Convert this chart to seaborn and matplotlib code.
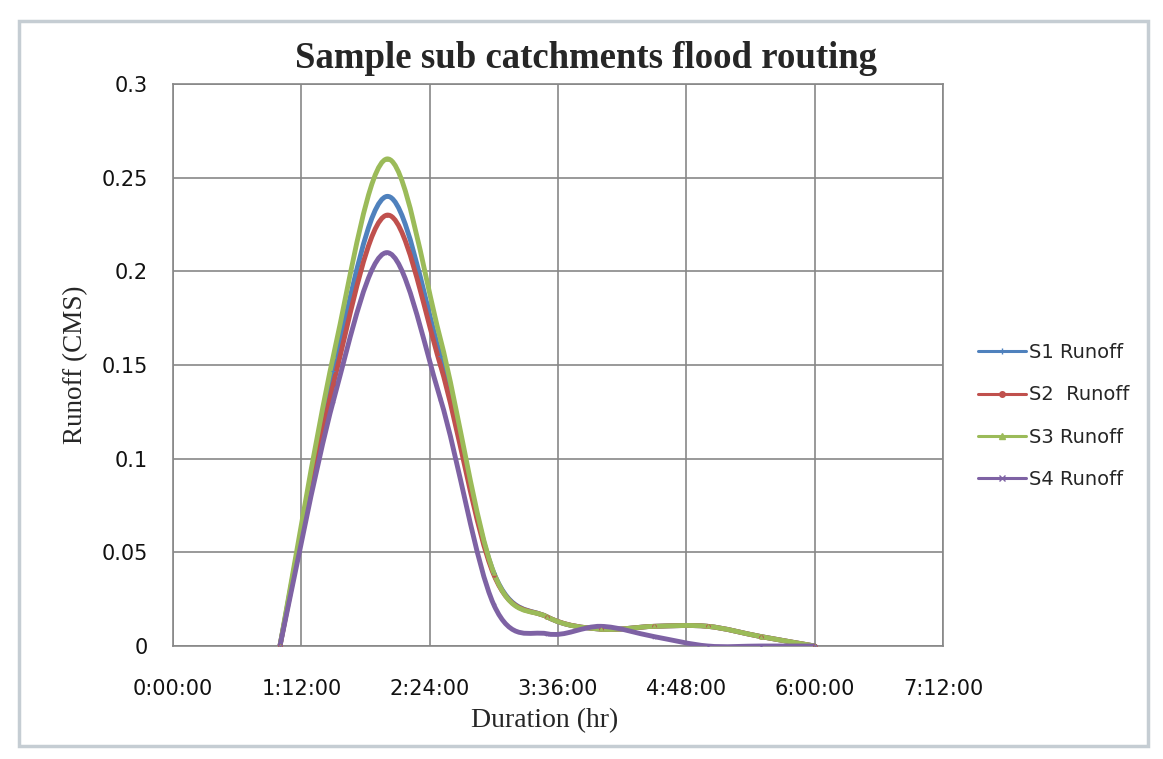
import numpy as np
import pandas as pd
import matplotlib
matplotlib.use("Agg")
import matplotlib.pyplot as plt
import seaborn as sns
from matplotlib.path import Path
from matplotlib.patches import PathPatch, Rectangle
from matplotlib.lines import Line2D
from matplotlib.ticker import FuncFormatter

# ---- data (time in minutes, runoff in CMS) ----
minutes = [60, 90, 120, 150, 180, 210, 240, 270, 300, 330, 360]
s1_runoff = [0, 0.147, 0.240, 0.155, 0.039, 0.0155, 0.009, 0.0105, 0.0105, 0.005, 0]
s2_runoff = [0, 0.140, 0.230, 0.150, 0.038, 0.0155, 0.009, 0.0105, 0.0105, 0.005, 0]
s3_runoff = [0, 0.155, 0.260, 0.164, 0.039, 0.0155, 0.009, 0.0105, 0.0105, 0.005, 0]
s4_runoff = [0, 0.131, 0.210, 0.132, 0.022, 0.0065, 0.0105, 0.005, 0, 0, 0]
series_names = ["S1 Runoff", "S2  Runoff", "S3 Runoff", "S4 Runoff"]
series_values = [s1_runoff, s2_runoff, s3_runoff, s4_runoff]
x_ticks_min = [0, 72, 144, 216, 288, 360, 432]
y_ticks = [0, 0.05, 0.1, 0.15, 0.2, 0.25, 0.3]

colors = ["#4F81BD", "#C0504D", "#9BBB59", "#7E62A4"]
markers = ["+", "o", "^", "x"]

sns.set_theme(style="white")
plt.rcParams["font.family"] = ["DejaVu Sans"]

fig = plt.figure(figsize=(11.63, 7.59), dpi=100)
fig.patch.set_facecolor("white")
ax = fig.add_axes([173 / 1163, 1 - 646 / 759, (943 - 173) / 1163, (646 - 84) / 759])

# outer chart frame
fig.patches.append(Rectangle((19 / 1163, 1 - 746 / 759), (1148 - 19) / 1163, (746 - 21) / 759,
                             transform=fig.transFigure, fill=False,
                             edgecolor="#C5CDD3", linewidth=2.5))


def smooth_path(xs, ys):
    # Excel-style smoothed line: cubic Bezier segments through data points
    pts = np.column_stack([xs, ys]).astype(float)
    n = len(pts)
    verts = [pts[0]]
    codes = [Path.MOVETO]
    for i in range(n - 1):
        p0 = pts[i - 1] if i > 0 else pts[i]
        p1 = pts[i]
        p2 = pts[i + 1]
        p3 = pts[i + 2] if i + 2 < n else pts[i + 1]
        c1 = p1 + (p2 - p0) / 6.0
        c2 = p2 - (p3 - p1) / 6.0
        verts += [c1, c2, p2]
        codes += [Path.CURVE4] * 3
    return Path(verts, codes)


for name, vals, col, mk in zip(series_names, series_values, colors, markers):
    patch = PathPatch(smooth_path(minutes, vals), facecolor="none", edgecolor=col,
                      linewidth=3.5, capstyle="round", joinstyle="round", zorder=3)
    ax.add_patch(patch)
    df = pd.DataFrame({"t": minutes, "v": vals})
    sns.scatterplot(data=df, x="t", y="v", ax=ax, color=col, marker=mk, s=6,
                    linewidth=0.8, edgecolor=col, zorder=4, legend=False)

ax.set_xlim(0, 432)
ax.set_ylim(0, 0.3)
ax.set_xticks(x_ticks_min)
ax.set_yticks(y_ticks)


def fmt_time(v, pos):
    m = int(round(v))
    return f"{m // 60}:{m % 60:02d}:00"


ax.xaxis.set_major_formatter(FuncFormatter(fmt_time))
ax.yaxis.set_major_formatter(FuncFormatter(lambda v, p: f"{v:g}"))
ax.grid(True, color="#878787", linewidth=1.2)
ax.set_axisbelow(True)
for sp in ax.spines.values():
    sp.set_color("#878787")
    sp.set_linewidth(1.2)
ax.tick_params(axis="x", length=0, pad=24, labelsize=15, labelcolor="#111111")
ax.tick_params(axis="y", length=0, pad=18, labelsize=15, labelcolor="#111111")
ax.set_xlabel("")
ax.set_ylabel("")

fig.text(586 / 1163, 1 - 58 / 759, "Sample sub catchments flood routing",
         ha="center", va="center", fontsize=26.5, fontweight="bold",
         family=["Liberation Serif", "DejaVu Serif"])
fig.text(545 / 1163, 1 - 721 / 759, "Duration (hr)", ha="center", va="center",
         fontsize=20, family=["Liberation Serif", "DejaVu Serif"])
fig.text(76 / 1163, 1 - 365 / 759, "Runoff (CMS)", ha="center", va="center",
         rotation=90, fontsize=19.5, family=["Liberation Serif", "DejaVu Serif"])

handles = [Line2D([0], [0], color=c, lw=2.2, marker=m, markersize=4, markeredgewidth=1)
           for c, m in zip(colors, markers)]
leg = fig.legend(handles, series_names, loc="center left",
                 bbox_to_anchor=(968 / 1163, 1 - 416 / 759), frameon=False,
                 fontsize=14, handlelength=2.5, handletextpad=0.15, labelspacing=1.2,
                 borderpad=0)

fig.savefig("out.png", dpi=100, facecolor="white")
